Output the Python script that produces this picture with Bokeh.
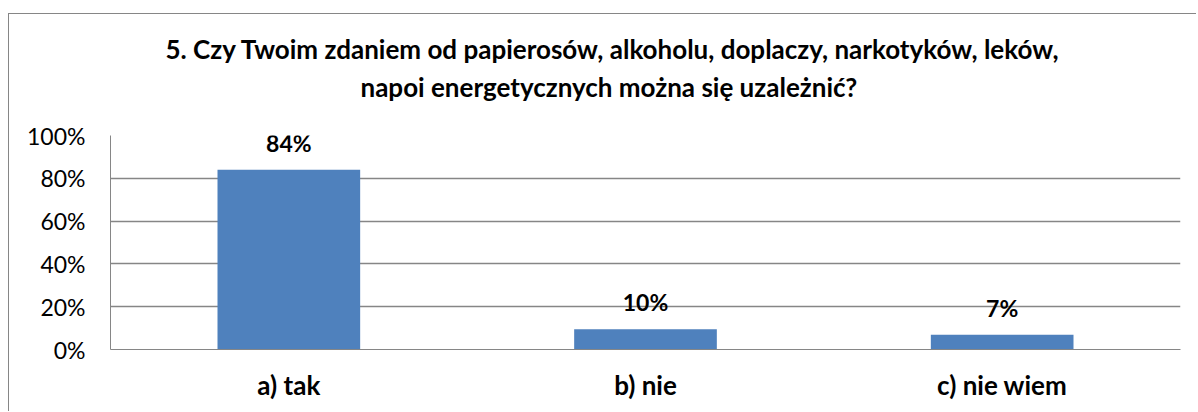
from bokeh.plotting import figure
from bokeh.models import FactorRange, Range1d, FixedTicker, NumeralTickFormatter, Title, ColumnDataSource
from bokeh.core.properties import value
from bokeh.embed import file_html
from bokeh.resources import INLINE

categories = ["a) tak", "b) nie", "c) nie wiem"]
values = [0.84, 0.095, 0.069]
labels = ["84%", "10%", "7%"]
y_ticks = [0, 0.2, 0.4, 0.6, 0.8, 1.0]
title_lines = ["5. Czy Twoim zdaniem od papierosów, alkoholu, doplaczy, narkotyków, leków,",
               "napoi energetycznych można się uzależnić?"]

FONT = "Lato"
GRAY = "#868686"

src = ColumnDataSource(dict(cat=categories, val=values, lab=labels))

p = figure(x_range=FactorRange(*categories, range_padding=0), y_range=Range1d(0, 1),
           width=1188, height=398, output_backend="svg", toolbar_location=None,
           min_border_left=101, min_border_right=17, min_border_top=121, min_border_bottom=63)
p.styles = {"margin-left": "8px", "margin-top": "13px",
            "border-top": "1px solid " + GRAY, "border-left": "1px solid " + GRAY}
p.outline_line_color = None
p.background_fill_color = "white"
p.border_fill_color = "white"

p.vbar(x="cat", top="val", width=0.4, source=src, fill_color="#4F81BD", line_color=None)
p.text(x="cat", y="val", text="lab", source=src, text_align="center", text_baseline="middle",
       y_offset=-27, text_font=value(FONT), text_font_style="bold", text_font_size="23px",
       text_color="black")

p.yaxis.ticker = FixedTicker(ticks=y_ticks)
p.yaxis.formatter = NumeralTickFormatter(format="0%")
p.yaxis.major_tick_line_color = None
p.yaxis.minor_tick_line_color = None
p.yaxis.axis_line_color = GRAY
p.yaxis.major_label_standoff = 19
p.yaxis.major_label_text_font = FONT
p.yaxis.major_label_text_font_size = "23px"
p.yaxis.major_label_text_color = "black"

p.xaxis.major_tick_line_color = None
p.xaxis.axis_line_color = GRAY
p.xaxis.major_label_standoff = 13
p.xaxis.major_label_text_font = FONT
p.xaxis.major_label_text_font_style = "bold"
p.xaxis.major_label_text_font_size = "26px"
p.xaxis.major_label_text_color = "black"

p.xgrid.grid_line_color = None
p.ygrid.ticker = FixedTicker(ticks=y_ticks)
p.ygrid.grid_line_color = GRAY
p.ygrid.grid_line_width = 1.3

# stacked outward from the plot frame: spacer, second line, first line
p.add_layout(Title(text=" ", text_font_size="1px", standoff=27), "above")
p.add_layout(Title(text=title_lines[1], align="left", offset=250, text_font=FONT,
                   text_font_style="bold", text_font_size="26px", text_color="black",
                   standoff=6), "above")
p.add_layout(Title(text=title_lines[0], align="left", offset=55, text_font=FONT,
                   text_font_style="bold", text_font_size="26px", text_color="black",
                   standoff=2), "above")

open("out.html", "w").write(file_html(p, INLINE))
